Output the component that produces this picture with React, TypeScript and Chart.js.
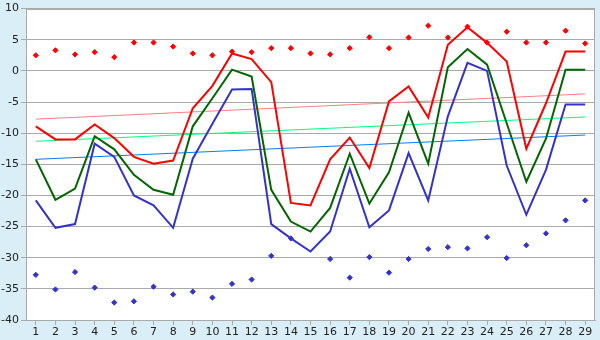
import React, { useEffect, useRef } from "react";
import { Chart, registerables } from "chart.js";

Chart.register(...registerables);

const categories = ["1","2","3","4","5","6","7","8","9","10","11","12","13","14","15","16","17","18","19","20","21","22","23","24","25","26","27","28","29"];

const redLine = [-8.9, -11.0, -11.0, -8.6, -10.8, -13.8, -14.9, -14.4, -6.0, -2.4, 2.8, 1.9, -1.8, -21.2, -21.6, -14.2, -10.7, -15.6, -4.9, -2.5, -7.5, 4.2, 7.0, 4.5, 1.5, -12.5, -5.2, 3.1, 3.1];
const greenLine = [-14.2, -20.7, -18.9, -10.5, -12.6, -16.7, -19.1, -19.9, -8.9, -4.4, 0.2, -0.9, -19.1, -24.2, -25.8, -22.0, -13.3, -21.3, -16.3, -6.7, -14.9, 0.6, 3.5, 1.0, -8.4, -17.8, -10.9, 0.2, 0.2];
const blueLine = [-20.8, -25.2, -24.6, -11.7, -13.8, -20.0, -21.6, -25.2, -14.1, -8.5, -3.0, -2.9, -24.6, -26.9, -29.0, -25.8, -15.7, -25.1, -22.4, -13.2, -20.8, -7.3, 1.3, 0.0, -15.2, -23.1, -15.9, -5.4, -5.4];

const redDots = [2.5, 3.3, 2.65, 3.0, 2.2, 4.55, 4.55, 3.9, 2.8, 2.5, 3.1, 3.0, 3.65, 3.65, 2.8, 2.65, 3.65, 5.4, 3.65, 5.35, 7.25, 5.35, 7.1, 4.55, 6.3, 4.55, 4.55, 6.45, 4.4];
const blueDots = [-32.75, -35.1, -32.3, -34.8, -37.2, -37.0, -34.65, -35.9, -35.45, -36.4, -34.2, -33.5, -29.7, -26.9, null, -30.2, -33.2, -29.9, -32.4, -30.2, -28.6, -28.3, -28.5, -26.7, -30.05, -28.0, -26.1, -24.0, -20.8];

// trend lines: start (category 1) and end (category 29) values
const redTrendEnds = [-7.75, -3.7];
const greenTrendEnds = [-11.3, -7.4];
const blueTrendEnds = [-14.2, -10.3];

const yTicks = [10, 5, 0, -5, -10, -15, -20, -25, -30, -35, -40];

function trend(ends: number[]) {
  return categories.map((_, i) => (i === 0 ? ends[0] : i === categories.length - 1 ? ends[1] : null));
}

const bgPlugin = {
  id: "bgPlugin",
  beforeDraw(chart: any) {
    const { ctx, chartArea } = chart;
    ctx.save();
    ctx.fillStyle = "#d9eef6";
    ctx.fillRect(0, 0, chart.width, chart.height);
    ctx.fillStyle = "#ffffff";
    ctx.fillRect(chartArea.left, chartArea.top, chartArea.right - chartArea.left, chartArea.bottom - chartArea.top);
    ctx.restore();
  },
  beforeDatasetsDraw(chart: any) {
    const { ctx, chartArea } = chart;
    ctx.save();
    ctx.strokeStyle = "#aaaaaa";
    ctx.lineWidth = 1;
    ctx.strokeRect(
      Math.round(chartArea.left) + 0.5,
      Math.round(chartArea.top) + 0.5,
      Math.round(chartArea.right - chartArea.left) - 1,
      Math.round(chartArea.bottom - chartArea.top)
    );
    ctx.restore();
  },
};

export default function App() {
  const ref = useRef<HTMLCanvasElement | null>(null);

  useEffect(() => {
    document.body.style.margin = "0";
    const canvas = ref.current;
    if (!canvas) return;
    const font = { family: "'DejaVu Sans', Verdana, sans-serif", size: 11 };
    const lineDs = (label: string, data: number[], color: string) => ({
      label,
      data,
      borderColor: color,
      backgroundColor: color,
      borderWidth: 2,
      pointRadius: 0,
      tension: 0,
      fill: false,
    });
    const dotDs = (label: string, data: (number | null)[], color: string) => ({
      label,
      data,
      borderColor: color,
      backgroundColor: color,
      showLine: false,
      pointStyle: "rectRot",
      pointRadius: 2.6,
      pointBorderWidth: 1,
    });
    const trendDs = (label: string, ends: number[], color: string) => ({
      label,
      data: trend(ends),
      borderColor: color,
      borderWidth: 1,
      pointRadius: 0,
      spanGaps: true,
      tension: 0,
      fill: false,
    });
    const chart = new Chart(canvas, {
      type: "line",
      data: {
        labels: categories,
        datasets: [
          lineDs("red", redLine, "#ff0000"),
          lineDs("green", greenLine, "#006600"),
          lineDs("blue", blueLine, "#3333cc"),
          dotDs("redDots", redDots, "#ff0000"),
          dotDs("blueDots", blueDots, "#3333cc"),
          trendDs("redTrend", redTrendEnds, "#ff8080"),
          trendDs("greenTrend", greenTrendEnds, "#00ff80"),
          trendDs("blueTrend", blueTrendEnds, "#0080ff"),
        ] as any,
      },
      options: {
        responsive: false,
        animation: false,
        layout: { padding: { top: 5, right: 5, left: 0, bottom: 0 } },
        plugins: { legend: { display: false }, tooltip: { enabled: false } },
        scales: {
          x: {
            type: "category",
            offset: true,
            grid: { offset: false, drawOnChartArea: false, drawTicks: true, tickLength: 5, color: "#aaaaaa" },
            border: { display: true, color: "#aaaaaa" },
            ticks: { color: "#222", font, padding: 1, maxRotation: 0, autoSkip: false },
            afterFit: (s: any) => { s.height = 20; },
          },
          y: {
            min: -40,
            max: 10,
            afterBuildTicks: (s: any) => { s.ticks = yTicks.map((v) => ({ value: v })); },
            grid: { color: "#aaaaaa", tickLength: 5, drawTicks: true },
            border: { display: true, color: "#aaaaaa" },
            ticks: { color: "#222", font, padding: 2 },
            afterFit: (s: any) => { s.width = 26; },
          },
        },
      } as any,
      plugins: [bgPlugin],
    });
    return () => chart.destroy();
  }, []);

  return <canvas ref={ref} width={600} height={340} style={{ display: "block" }} />;
}
